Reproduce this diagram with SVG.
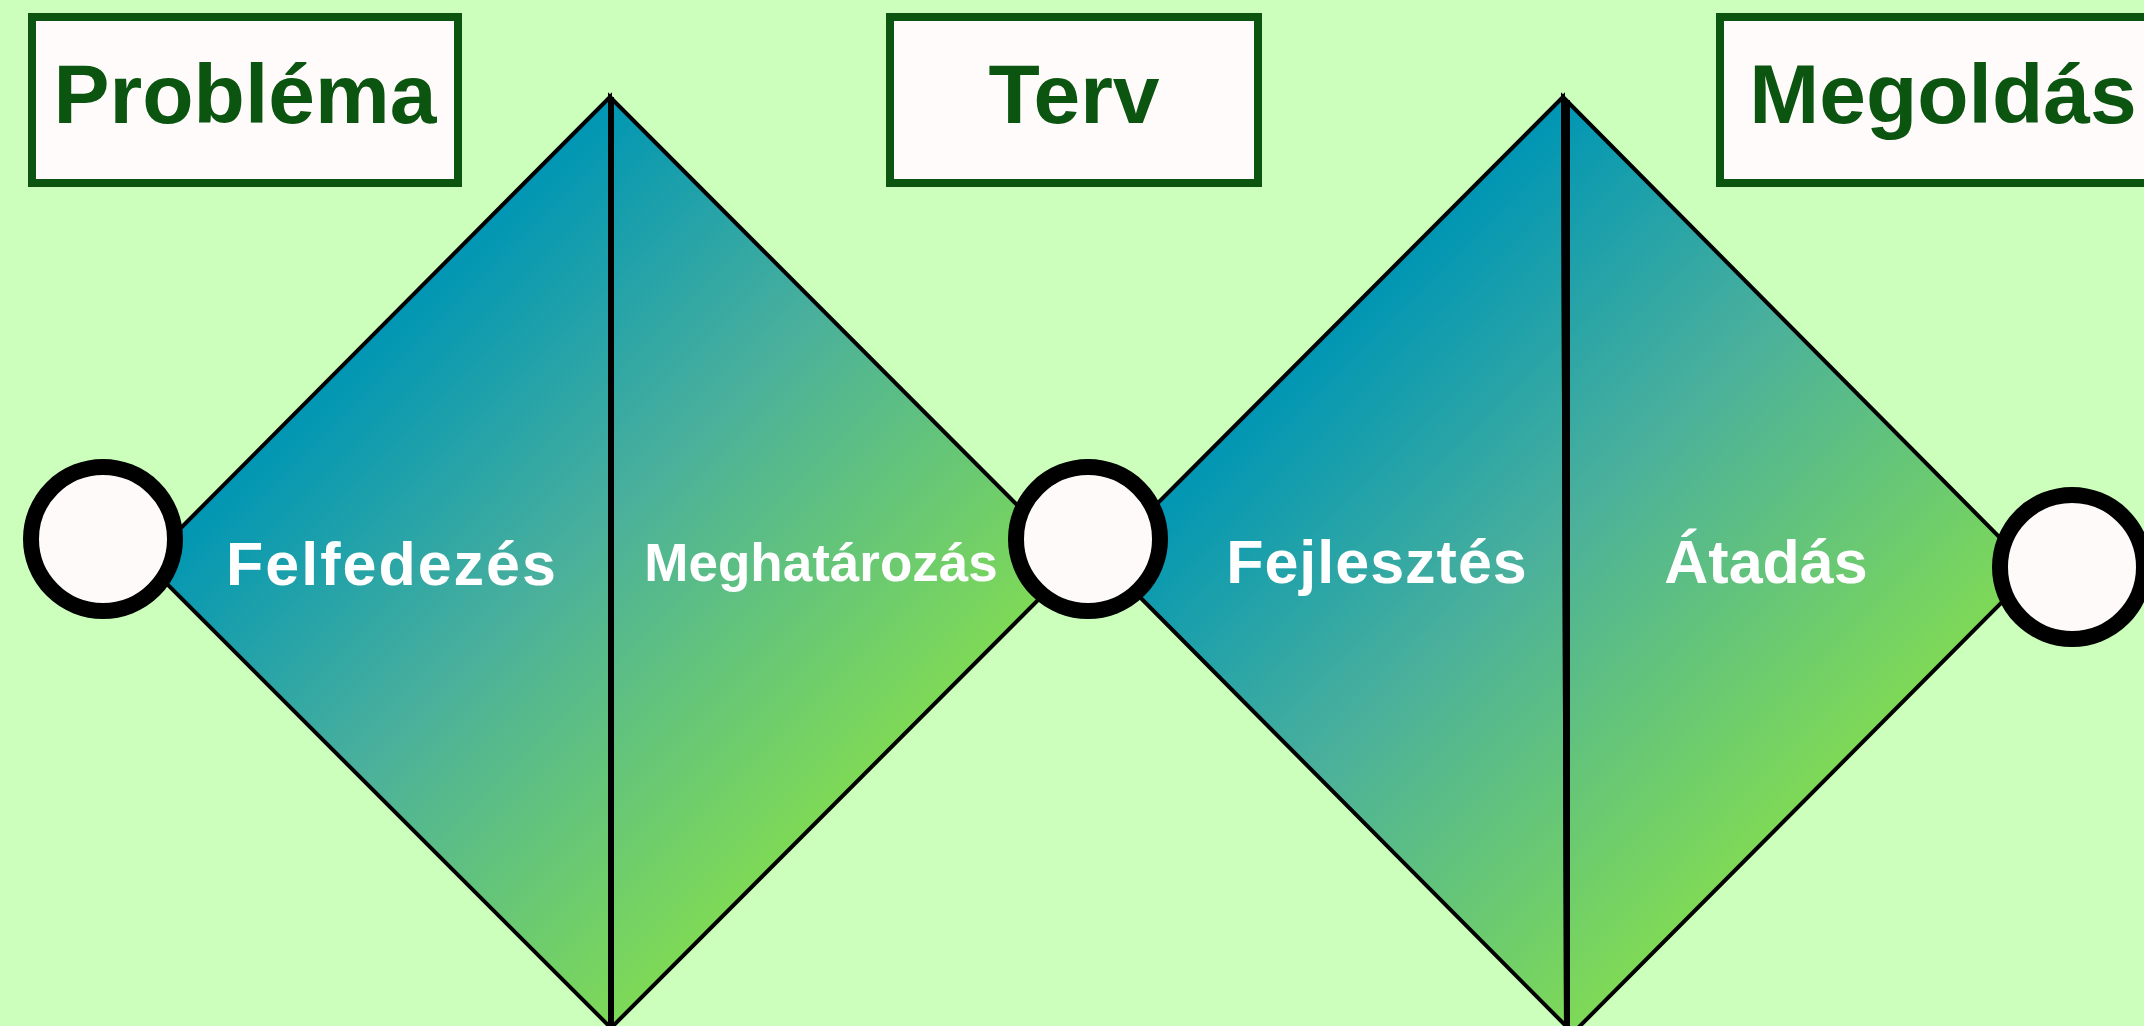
<svg xmlns="http://www.w3.org/2000/svg" width="2144" height="1026" viewBox="0 0 2144 1026">
<style>
.bg{fill:#ccffbb}
.box{fill:#fffbfa;stroke:#0b5511;stroke-width:8}
.title{font-family:"Liberation Sans",Arial,sans-serif;font-weight:bold;font-size:84px;fill:#0b5511;text-anchor:middle}
.tri{stroke:#000;stroke-width:4;stroke-linejoin:miter}
.div{stroke:#000;stroke-width:6}
.dot{fill:#fffafa;stroke:#000;stroke-width:16}
.lbl{font-family:"Liberation Sans",Arial,sans-serif;font-weight:bold;font-size:61px;fill:#ffffff;text-anchor:middle}
</style>
<defs>
<linearGradient id="g1" gradientUnits="userSpaceOnUse" x1="378" y1="330" x2="843" y2="795">
<stop offset="0" stop-color="#0096b4"/>
<stop offset="0.45" stop-color="#4ab09c"/>
<stop offset="1" stop-color="#7ed957"/>
</linearGradient>
<linearGradient id="g2" gradientUnits="userSpaceOnUse" x1="1333" y1="328" x2="1800" y2="804">
<stop offset="0" stop-color="#0096b4"/>
<stop offset="0.45" stop-color="#4ab09c"/>
<stop offset="1" stop-color="#7ed957"/>
</linearGradient>
</defs>
<rect class="bg" x="0" y="0" width="2144" height="1026"/>

<g id="diamond1">
<polygon class="tri" fill="url(#g1)" points="610,97 146,563 611,1028"/>
<polygon class="tri" fill="url(#g1)" points="610,97 1075,563 611,1028"/>
<line class="div" x1="611" y1="97" x2="611" y2="1030"/>
</g>
<g id="diamond2">
<polygon class="tri" fill="url(#g2)" points="1563,97 1102,559 1566,1026"/>
<polygon class="tri" fill="url(#g2)" points="1563,97 2033,571 1566,1040"/>
<line class="div" x1="1567" y1="100" x2="1567" y2="1030"/>
</g>

<g id="box-problema">
<rect class="box" x="32" y="17" width="426" height="166"/>
<text class="title" x="245" y="123">Probléma</text>
</g>
<g id="box-terv">
<rect class="box" x="890" y="17" width="368" height="166"/>
<text class="title" x="1074" y="123">Terv</text>
</g>
<g id="box-megoldas">
<rect class="box" x="1720" y="17" width="460" height="166"/>
<text class="title" x="1943" y="123">Megoldás</text>
</g>

<g id="circle1"><circle class="dot" cx="103" cy="539" r="72"/></g>
<g id="circle2"><circle class="dot" cx="1088" cy="539" r="72"/></g>
<g id="circle3"><circle class="dot" cx="2072" cy="567" r="72"/></g>

<g id="label-felfedezes"><text class="lbl" x="392" y="585" letter-spacing="2">Felfedezés</text></g>
<g id="label-meghatarozas"><text class="lbl" x="821" y="581" style="font-size:53px">Meghatározás</text></g>
<g id="label-fejlesztes"><text class="lbl" x="1377" y="583" letter-spacing="1">Fejlesztés</text></g>
<g id="label-atadas"><text class="lbl" x="1766" y="583">Átadás</text></g>
</svg>
